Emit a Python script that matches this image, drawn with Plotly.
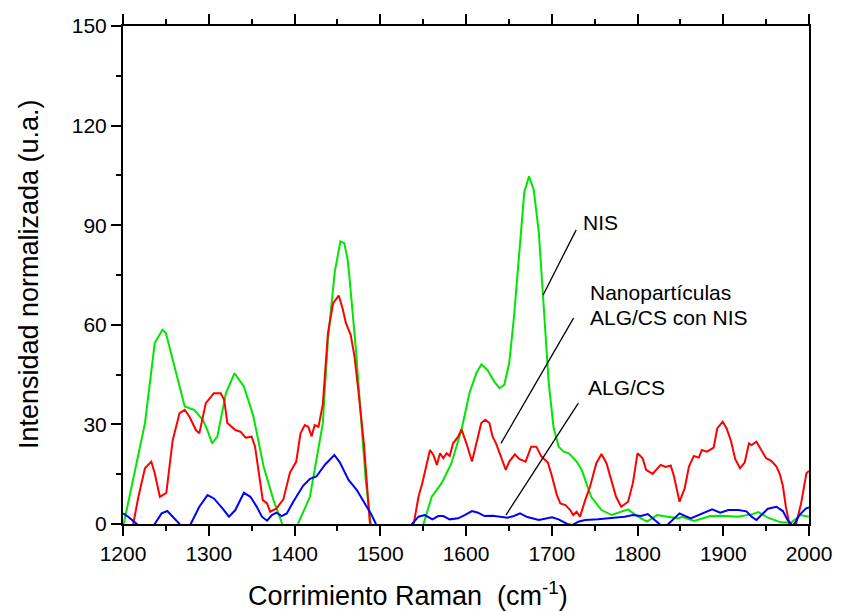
import plotly.graph_objects as go

# ---------------- data ----------------
nis_x = [1200, 1225.6, 1237, 1246, 1250, 1258, 1266.6, 1272, 1283, 1293, 1298, 1304, 1310, 1320, 1330,
         1341, 1352, 1364, 1375.5, 1385, 1390, 1398, 1404, 1418, 1429, 1433, 1439, 1447, 1453.5, 1458,
         1462, 1464, 1471.6, 1473.6, 1479, 1483, 1489, 1495, 1545, 1550.4, 1560, 1571.6, 1583, 1594.7,
         1604, 1612, 1618, 1625, 1633, 1639, 1644.6, 1650.4, 1656, 1662, 1668, 1673.5, 1679, 1685, 1689,
         1692.7, 1696.5, 1702, 1708, 1714, 1720, 1729, 1735, 1739, 1746, 1758, 1770, 1789, 1800, 1811,
         1823, 1835, 1848, 1852, 1866, 1885, 1898, 1917, 1933, 1941, 1952, 1967, 1979, 1990, 2000]
nis_y = [-1, 30.3, 54.5, 58.5, 57.5, 49.4, 41.4, 35.4, 34.4, 31.4, 28.5, 24.3, 26.3, 39.4, 45.4,
         41.4, 32.5, 17.3, 7.2, 0, -3, -3, 0, 8.2, 25.3, 30.3, 55.5, 76, 85.1, 84.6,
         79.6, 74.6, 52.5, 45.4, 28.3, 13.3, 0, -3, -3, 0, 8.2, 12.3, 18.3, 28.3,
         39.4, 45.4, 48.1, 46.4, 42.9, 40.9, 41.9, 48.4, 62.5, 82.6, 100, 104.7, 100.7, 87.6, 72.6,
         57.5, 42.4, 29.3, 23.3, 21.8, 21.3, 18.8, 16.3, 13.3, 8.2, 4.2, 2.7, 4.4, 2.3, 0.7,
         2.7, 2.2, 1.7, 2.2, 0.9, 2.4, 2.5, 2.2, 2.9, 3.6, 1.9, 0.5, 0.4, 2.7, 2.2]

nano_x = [1206, 1212, 1218, 1225.6, 1233, 1237, 1243, 1250.5, 1258, 1266, 1272, 1277.5, 1285, 1289,
          1296.6, 1306, 1314, 1318, 1321.7, 1331, 1337, 1343, 1350, 1354, 1360, 1363, 1368, 1371.6,
          1379, 1383, 1387, 1394.7, 1402, 1407, 1412, 1416, 1420, 1423.5, 1428, 1433, 1439, 1445,
          1451.6, 1456, 1460, 1465.5, 1470, 1475, 1481, 1487, 1489, 1495, 1533, 1539, 1544.6, 1549,
          1554, 1558, 1562, 1566, 1569.7, 1573.5, 1577.4, 1581, 1585, 1590.8, 1594.7, 1600.5, 1607,
          1612, 1617.8, 1622.5, 1627.3, 1631, 1635, 1640, 1646.4, 1650.4, 1657, 1662, 1669.5, 1676,
          1682, 1688, 1695.5, 1700.3, 1706, 1710, 1716, 1721.6, 1725, 1729, 1733, 1739, 1744.6, 1752,
          1758, 1763.8, 1769.6, 1775, 1781, 1789, 1794.6, 1800, 1806, 1810, 1817.6, 1823.4, 1827,
          1833, 1838.7, 1842.6, 1849, 1855, 1860, 1865.7, 1871.5, 1875, 1881, 1888.8, 1893, 1899.3,
          1904, 1909, 1914, 1919.5, 1925, 1930, 1933, 1938.7, 1945, 1950, 1956, 1962, 1966, 1969.5,
          1973, 1977, 1981, 1985, 1991, 1997, 2000]
nano_y = [-8, 0, 8.2, 16.8, 18.8, 15.3, 8.2, 9.4, 25.3, 33.4, 34.4, 32.3, 28.3, 27.3,
          36.4, 39.4, 39.4, 37.4, 30.4, 28.3, 27.8, 26, 26.3, 23.3, 12.3, 7.2, 6.2, 3.7,
          4.7, 6.2, 7.4, 15.5, 18.8, 27.3, 29.8, 29.3, 26.4, 29.8, 29.3, 36, 57.5, 66.5,
          68.8, 65, 60.5, 57, 50.4, 39, 24, 3.2, -3, -8, -8, 0, 8.2, 12.3,
          18.3, 22.3, 20.8, 17.8, 21.3, 19.8, 21.3, 20.5, 24.3, 26.3, 28.5, 24.3, 18.8,
          24.3, 30.4, 31.4, 30.4, 26.3, 24.3, 20.8, 16.3, 18.8, 21, 19.6, 18.8, 23.3,
          23.3, 20.3, 18.5, 14.3, 8.7, 6.2, 5.7, 4.2, 2.7, 3.7, 2.2, 7.2, 11.2, 18.3,
          21.1, 18.3, 13.3, 8.2, 5.2, 6.7, 12.3, 21.3, 19.8, 16.3, 15.1, 16.8, 17.8,
          17.2, 17.6, 14.3, 6.7, 10.7, 17.3, 20.5, 20, 22.3, 21.8, 23, 28.8, 30.8,
          28.8, 25, 19.5, 16.8, 18.5, 24.3, 23.8, 24.8, 22, 19.8, 19, 17.3, 15, 11.5,
          5.2, 0, -5, 0, 6.5, 15.3, 16]

alg_x = [1200, 1206, 1216, 1220, 1233, 1237, 1245, 1251.7, 1258, 1266, 1270, 1276, 1279, 1289, 1298.6,
         1306, 1316, 1323.6, 1331, 1341, 1348.6, 1356, 1362, 1368, 1373.6, 1379, 1385, 1391, 1398.6,
         1410, 1418, 1425.5, 1436, 1446.5, 1453, 1463, 1472.5, 1479, 1483, 1489, 1495, 1500, 1533,
         1537, 1544.6, 1552, 1560.8, 1567.7, 1573.5, 1581, 1590.8, 1598.5, 1607, 1614, 1621.6, 1631,
         1639, 1648.4, 1656, 1663, 1671.5, 1685, 1700.3, 1708, 1718, 1724, 1731, 1739, 1754, 1769.6,
         1785, 1794.6, 1804, 1812, 1817.6, 1825, 1830, 1836, 1844.5, 1849, 1862, 1875, 1887, 1896.5,
         1906, 1917.6, 1927, 1933, 1938.7, 1944.5, 1952, 1962, 1969.5, 1975, 1978.5, 1981, 1984,
         1988.7, 1996.6, 2000]
alg_y = [3.2, 2.2, 0, -2, -2, 0, 3.2, 3.9, 2.2, 0, -2, -2, 0, 5.2, 8.7,
         7.7, 4.7, 2.2, 4.2, 9.4, 8.2, 5.2, 2.2, 1, 2.7, 3.4, 2.4, 3.2, 6.7,
         11.5, 13.6, 14.3, 18, 20.8, 18.5, 13.3, 10.3, 7.2, 5.7, 3.2, 0, -2, -2,
         0, 2.2, 2.7, 1.4, 2.4, 2.4, 1.4, 1.7, 2.7, 3.9, 3.4, 2.4, 2.5,
         2.2, 1.9, 2.4, 3.2, 2.1, 1.2, 2.0, 1.4, 0, -0.3, 0.7, 1.2, 1.4, 1.7,
         2.2, 2.7, 2.4, 3.0, 1.7, 0, -1, 0, 2.2, 3.2, 1.7, 3.2, 4.4, 3.4,
         4.2, 4.2, 3.8, 2.2, 1.2, 2.7, 4.6, 5.2, 3.9, 1.2, 0, -0.5, 0.5,
         2.7, 4.7, 5]

x_ticks = [1200, 1300, 1400, 1500, 1600, 1700, 1800, 1900, 2000]
y_ticks = [0, 30, 60, 90, 120, 150]
right_ticks = [1, 2, 3]

# labels and their leader lines (data coordinates)
label_nis = "NIS"
label_nano_1 = "Nanopartículas"
label_nano_2 = "ALG/CS con NIS"
label_alg = "ALG/CS"
x_title = "Corrimiento Raman  (cm<sup>-1</sup>)"
y_title = "Intensidad normalizada (u.a.)"

FONT = "Arial, Liberation Sans, Helvetica, sans-serif"

fig = go.Figure()
fig.add_trace(go.Scatter(x=nis_x, y=nis_y, mode="lines", line=dict(color="#00e600", width=2),
                         name="NIS", showlegend=False))
fig.add_trace(go.Scatter(x=nano_x, y=nano_y, mode="lines", line=dict(color="#ff0000", width=2),
                         name="Nanopartículas ALG/CS con NIS", showlegend=False))
fig.add_trace(go.Scatter(x=alg_x, y=alg_y, mode="lines", line=dict(color="#0000ff", width=2),
                         name="ALG/CS", showlegend=False))

fig.update_layout(
    width=844, height=611,
    margin=dict(l=123, r=27, t=26, b=87),
    paper_bgcolor="white", plot_bgcolor="white",
    font=dict(family=FONT, color="black", size=21),
    xaxis=dict(range=[1200, 2000], tickvals=x_ticks, ticks="outside", ticklen=10, tickwidth=2,
               tickcolor="black", showline=True, linewidth=2, linecolor="black", mirror="ticks",
               showgrid=False, zeroline=False, tickfont=dict(size=21),
               minor=dict(dtick=50, ticks="outside", ticklen=5, tickwidth=2, tickcolor="black")),
    yaxis=dict(range=[0, 150], tickvals=y_ticks, ticks="outside", ticklen=10, tickwidth=2,
               tickcolor="black", showline=True, linewidth=2, linecolor="black", mirror=True,
               showgrid=False, zeroline=False, tickfont=dict(size=21),
               minor=dict(dtick=15, ticks="outside", ticklen=5, tickwidth=2, tickcolor="black")),
    yaxis2=dict(overlaying="y", side="right", anchor="x", range=[0, 3.65], tickvals=right_ticks,
                ticks="inside", ticklen=10, tickwidth=2, tickcolor="black", showticklabels=False,
                showline=False, showgrid=False, zeroline=False),
)

leaders = [
    ((1728.5, 88.6), (1690, 69.0)),
    ((1725.4, 62.0), (1640.8, 24.3)),
    ((1731, 36.4), (1646.6, 2.7)),
]
for (x0, y0), (x1, y1) in leaders:
    fig.add_shape(type="line", xref="x", yref="y", x0=x0, y0=y0, x1=x1, y1=y1,
                  line=dict(color="black", width=1.3))

labels = [
    (label_nis, 1734.5, 90.7),
    (label_nano_1, 1742.5, 69.8),
    (label_nano_2, 1742.5, 62.3),
    (label_alg, 1740, 41.0),
]
for text, lx, ly in labels:
    fig.add_annotation(x=lx, y=ly, xref="x", yref="y", text=text, showarrow=False,
                       xanchor="left", yanchor="middle", font=dict(size=21, family=FONT))

fig.add_annotation(x=0.415, y=-0.141, xref="paper", yref="paper", text=x_title, showarrow=False,
                   xanchor="center", yanchor="middle", font=dict(size=27, family=FONT))
fig.add_annotation(x=-0.1369, y=0.502, xref="paper", yref="paper", text=y_title, showarrow=False,
                   textangle=-90, xanchor="center", yanchor="middle", font=dict(size=27, family=FONT))

fig.write_html("out.html")
